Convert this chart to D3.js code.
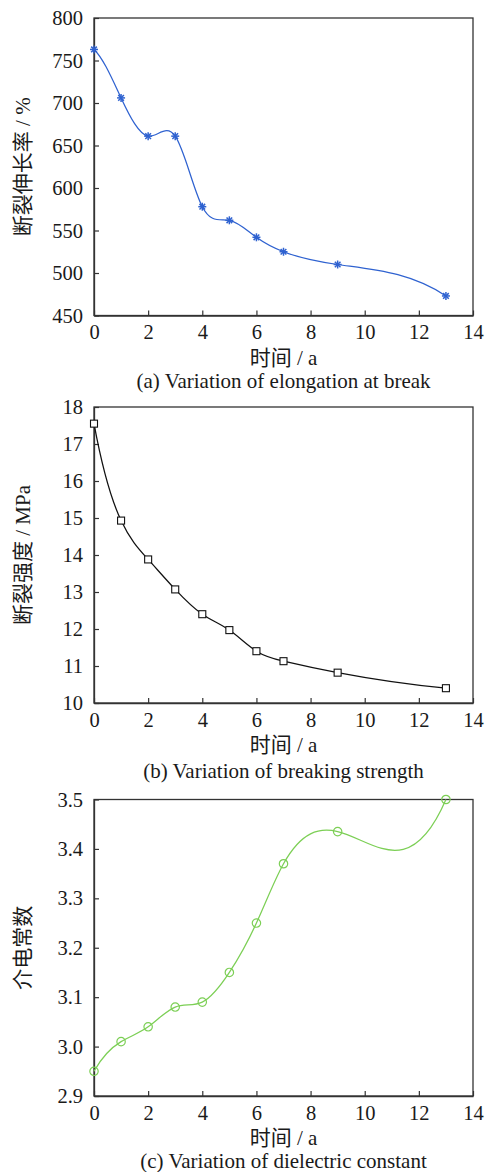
<!DOCTYPE html>
<html>
<head>
<meta charset="utf-8">
<script src="https://cdn.jsdelivr.net/npm/d3@7"></script>
<style>
  html, body { margin: 0; padding: 0; background: #fff; }
  svg { display: block; }
</style>
</head>
<body>
<svg id="chart" width="486" height="1172"></svg>
<script>
// Aging time in years (shared by all three panels)
const years = [0, 1, 2, 3, 4, 5, 6, 7, 9, 13];

// (a) elongation at break, %
const elongation = [763, 706, 661, 661, 578, 562, 542, 525, 510, 473];
// (b) breaking strength, MPa
const strength = [17.55, 14.93, 13.88, 13.07, 12.4, 11.97, 11.4, 11.13, 10.82, 10.4];
// (c) dielectric constant
const dielectric = [2.95, 3.01, 3.04, 3.08, 3.09, 3.15, 3.25, 3.37, 3.435, 3.5];

const xTicks = [0, 2, 4, 6, 8, 10, 12, 14];
const yTicksA = [450, 500, 550, 600, 650, 700, 750, 800];
const yTicksB = [10, 11, 12, 13, 14, 15, 16, 17, 18];
const yTicksC = [2.9, 3.0, 3.1, 3.2, 3.3, 3.4, 3.5];

const xTitle = "时间 / a";
const yTitles = ["断裂伸长率 / %", "断裂强度 / MPa", "介电常数"];
const captions = [
  "(a) Variation of elongation at break",
  "(b) Variation of breaking strength",
  "(c) Variation of dielectric constant"
];

const FONT = "Liberation Serif, Times New Roman, serif";
const CJK = "Liberation Serif, Noto Sans CJK SC, serif";
const svg = d3.select("#chart");

// Not-a-knot cubic spline of y over x, emitted as Bézier segments
function curveSplineX(context) {
  let xs, ys;
  return {
    areaStart() {},
    areaEnd() {},
    lineStart() { xs = []; ys = []; },
    point(x, y) { xs.push(+x); ys.push(+y); },
    lineEnd() {
      const n = xs.length;
      if (!n) return;
      context.moveTo(xs[0], ys[0]);
      if (n < 4) { for (let i = 1; i < n; i++) context.lineTo(xs[i], ys[i]); return; }
      const h = [];
      for (let i = 0; i < n - 1; i++) h.push(xs[i + 1] - xs[i]);
      // system for the second derivatives M
      const A = Array.from({ length: n }, () => new Array(n + 1).fill(0));
      A[0][0] = h[1]; A[0][1] = -(h[0] + h[1]); A[0][2] = h[0];
      for (let i = 1; i < n - 1; i++) {
        A[i][i - 1] = h[i - 1];
        A[i][i] = 2 * (h[i - 1] + h[i]);
        A[i][i + 1] = h[i];
        A[i][n] = 6 * ((ys[i + 1] - ys[i]) / h[i] - (ys[i] - ys[i - 1]) / h[i - 1]);
      }
      A[n - 1][n - 3] = h[n - 2]; A[n - 1][n - 2] = -(h[n - 3] + h[n - 2]); A[n - 1][n - 1] = h[n - 3];
      for (let c = 0; c < n; c++) {
        let p = c;
        for (let r = c + 1; r < n; r++) if (Math.abs(A[r][c]) > Math.abs(A[p][c])) p = r;
        [A[c], A[p]] = [A[p], A[c]];
        for (let r = 0; r < n; r++) {
          if (r === c) continue;
          const f = A[r][c] / A[c][c];
          for (let k = c; k <= n; k++) A[r][k] -= f * A[c][k];
        }
      }
      const M = A.map((row, i) => row[n] / row[i]);
      for (let i = 0; i < n - 1; i++) {
        const hi = h[i], s = (ys[i + 1] - ys[i]) / hi;
        const d0 = s - hi * (2 * M[i] + M[i + 1]) / 6;
        const d1 = s + hi * (M[i] + 2 * M[i + 1]) / 6;
        context.bezierCurveTo(
          xs[i] + hi / 3, ys[i] + d0 * hi / 3,
          xs[i + 1] - hi / 3, ys[i + 1] - d1 * hi / 3,
          xs[i + 1], ys[i + 1]);
      }
    }
  };
}

const left = 94, right = 473;

function panel(opts) {
  const x = d3.scaleLinear().domain([0, 14]).range([left, right]);
  const y = d3.scaleLinear().domain(opts.yDomain).range([opts.bottom, opts.top]);
  const g = svg.append("g");

  // frame
  g.append("rect")
    .attr("x", left).attr("y", opts.top)
    .attr("width", right - left).attr("height", opts.bottom - opts.top)
    .attr("fill", "none").attr("stroke", "#333").attr("stroke-width", 1.3);

  const xAxis = g.append("g")
    .attr("transform", `translate(0,${opts.bottom})`)
    .call(d3.axisBottom(x).tickValues(xTicks).tickSizeInner(-5).tickSizeOuter(0).tickPadding(9));
  const yAxis = g.append("g")
    .attr("transform", `translate(${left},0)`)
    .call(d3.axisLeft(y).tickValues(opts.yTicks).tickFormat(opts.fmt)
      .tickSizeInner(-5).tickSizeOuter(0).tickPadding(11));

  [xAxis, yAxis].forEach(a => {
    a.attr("font-family", FONT).attr("font-size", 20.5);
    a.selectAll(".domain").attr("stroke", "#333").attr("stroke-width", 1.3);
    a.selectAll(".tick line").attr("stroke", "#333").attr("stroke-width", 1.2);
    a.selectAll(".tick text").attr("fill", "#1a1a1a");
  });

  // smooth connecting curve
  const line = d3.line()
    .x((d, i) => x(years[i]))
    .y(d => y(d))
    .curve(curveSplineX);
  g.append("path")
    .datum(opts.values)
    .attr("d", line)
    .attr("fill", "none")
    .attr("stroke", opts.color)
    .attr("stroke-width", 1.25);

  // markers
  const pts = g.append("g").selectAll("g")
    .data(opts.values)
    .join("g")
    .attr("transform", (d, i) => `translate(${x(years[i])},${y(d)})`);
  opts.marker(pts);

  // titles
  g.append("text")
    .attr("x", (left + right) / 2).attr("y", opts.bottom + 49)
    .attr("text-anchor", "middle")
    .attr("font-family", CJK).attr("font-size", 21).attr("fill", "#1a1a1a")
    .text(xTitle);
  g.append("text")
    .attr("transform", `translate(30,${(opts.top + opts.bottom) / 2}) rotate(-90)`)
    .attr("text-anchor", "middle")
    .attr("font-family", CJK).attr("font-size", 21).attr("fill", "#1a1a1a")
    .text(opts.yTitle);
  g.append("text")
    .attr("x", (left + right) / 2).attr("y", opts.bottom + opts.capOffset)
    .attr("text-anchor", "middle")
    .attr("font-family", FONT).attr("font-size", 21).attr("fill", "#1a1a1a")
    .text(opts.caption);
}

const blue = "#2f62d0", green = "#7ccf55";

panel({
  top: 18, bottom: 315.5, yDomain: [450, 800], yTicks: yTicksA, fmt: d3.format("d"),
  values: elongation, color: blue, yTitle: yTitles[0], caption: captions[0], capOffset: 72,
  marker: sel => {
    [0, 45, 90, 135].forEach(a => {
      sel.append("line")
        .attr("x1", -4).attr("x2", 4).attr("y1", 0).attr("y2", 0)
        .attr("transform", `rotate(${a})`)
        .attr("stroke", blue).attr("stroke-width", 1.5);
    });
  }
});

panel({
  top: 407, bottom: 703, yDomain: [10, 18], yTicks: yTicksB, fmt: d3.format("d"),
  values: strength, color: "#111", yTitle: yTitles[1], caption: captions[1], capOffset: 75,
  marker: sel => {
    sel.append("rect")
      .attr("x", -3.5).attr("y", -3.5).attr("width", 7).attr("height", 7)
      .attr("fill", "#fff").attr("stroke", "#111").attr("stroke-width", 1.1);
  }
});

panel({
  top: 799.5, bottom: 1096, yDomain: [2.9, 3.5], yTicks: yTicksC, fmt: d3.format(".1f"),
  values: dielectric, color: green, yTitle: yTitles[2], caption: captions[2], capOffset: 72,
  marker: sel => {
    sel.append("circle")
      .attr("r", 4.2)
      .attr("fill", "none").attr("stroke", green).attr("stroke-width", 1.2);
  }
});
</script>
</body>
</html>
